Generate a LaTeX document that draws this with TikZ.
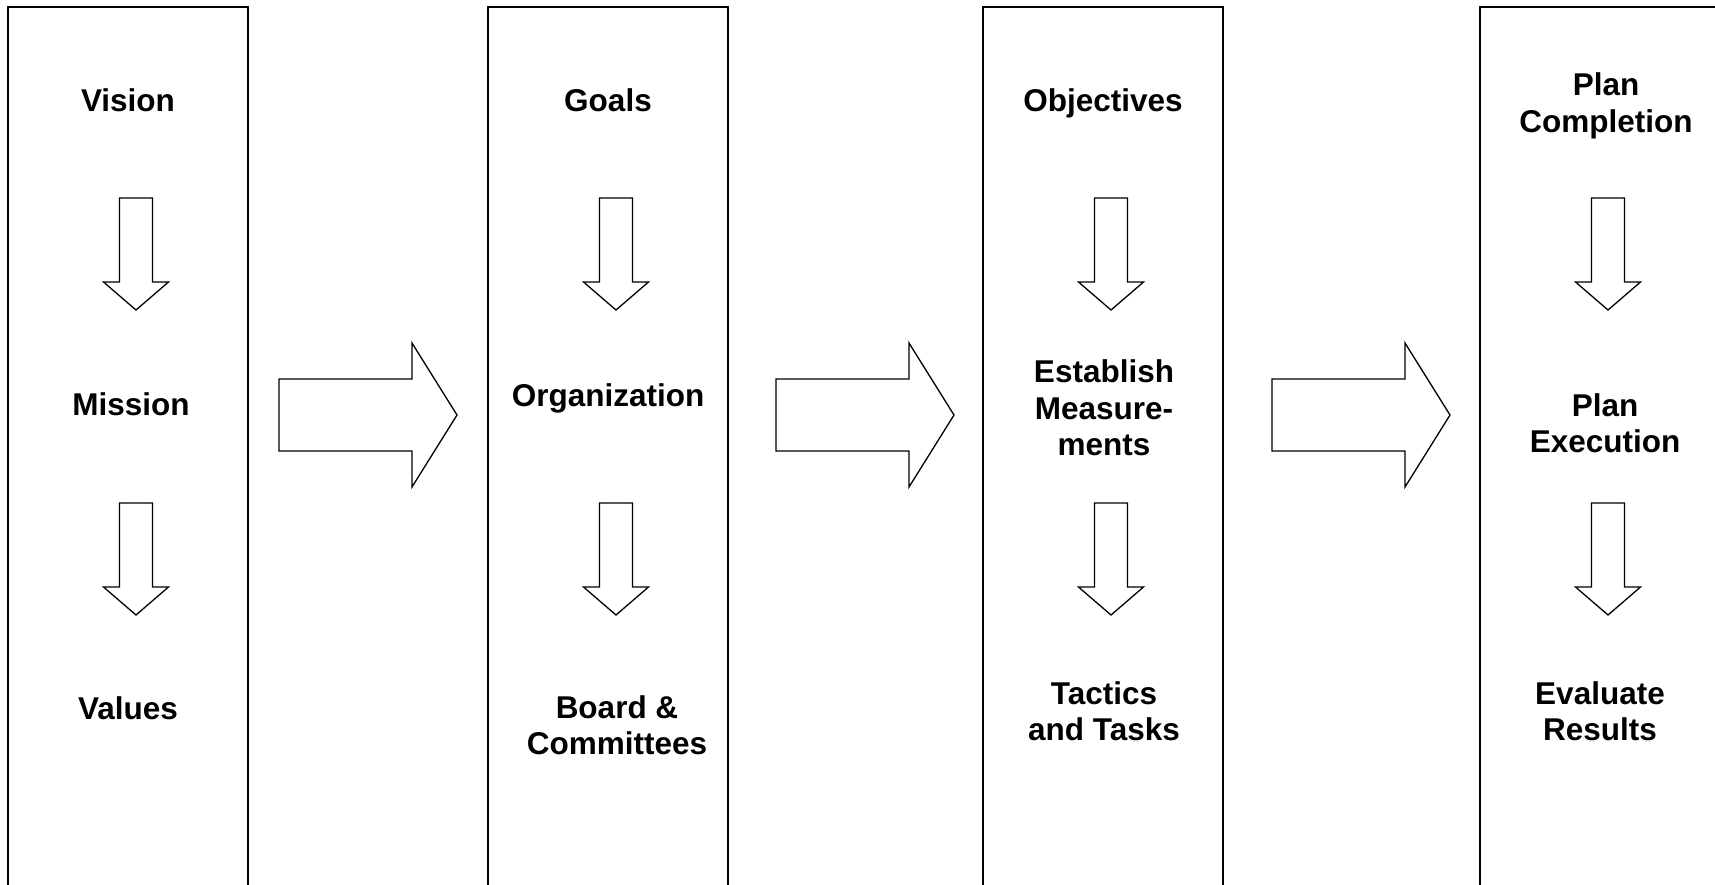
\documentclass[tikz,border=0pt]{standalone}
\usepackage{fontspec}
\setmainfont{Liberation Sans}
\usepackage{tikz}

\begin{document}
\begin{tikzpicture}[x=1pt,y=-1pt,
  every node/.style={font=\bfseries\fontsize{31.5}{36.5}\selectfont,align=center,inner sep=0pt},
  col/.style={draw,line width=2pt},
  arrline/.style={draw,line width=1.3pt,line join=miter},
  downarr/.pic={\draw[arrline] (-16.5,0) -- (16.5,0) -- (16.5,84) -- (32.5,84) -- (0,112) -- (-32.5,84) -- (-16.5,84) -- cycle;},
  rightarr/.pic={\draw[arrline] (0,-36) -- (133,-36) -- (133,-72) -- (178,0) -- (133,72) -- (133,36) -- (0,36) -- cycle;}]
\useasboundingbox (0,0) rectangle (1715,884);
\draw[col] (8,7) rectangle (248,900);
\draw[col] (488,7) rectangle (728,900);
\draw[col] (983,7) rectangle (1223,900);
\draw[col] (1480,7) rectangle (1720,900);
\node(vision) at (128,100) {Vision};
\node(mission) at (131,404) {Mission};
\node(values) at (128,708) {Values};
\node(goals) at (608,100) {Goals};
\node(organization) at (608,398) {Organization};
\node(board) at (617,725) {Board \&\\Committees};
\node(objectives) at (1103,103) {Objectives};
\node(measurements) at (1104,408) {Establish\\Measure-\\ments};
\node(tactics) at (1104,711) {Tactics\\and Tasks};
\node(completion) at (1606,106) {Plan\\Completion};
\node(execution) at (1605,423) {Plan\\Execution};
\node(evaluate) at (1600,711) {Evaluate\\Results};
\pic at (136,198) {downarr};
\pic at (136,503) {downarr};
\pic at (616,198) {downarr};
\pic at (616,503) {downarr};
\pic at (1111,198) {downarr};
\pic at (1111,503) {downarr};
\pic at (1608,198) {downarr};
\pic at (1608,503) {downarr};
\pic at (279,415) {rightarr};
\pic at (776,415) {rightarr};
\pic at (1272,415) {rightarr};
\end{tikzpicture}
\end{document}
